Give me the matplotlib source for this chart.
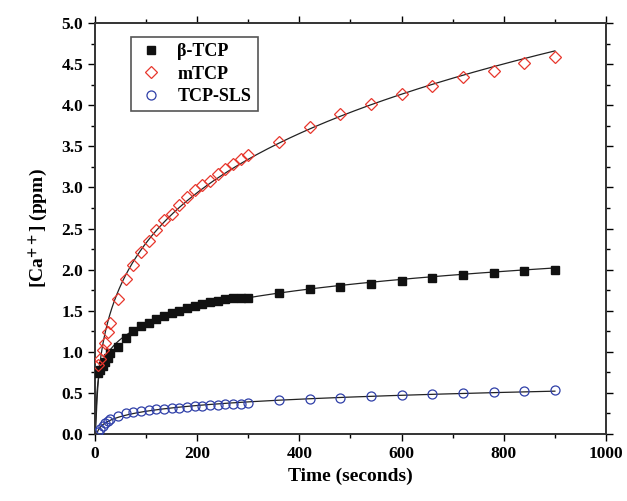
import numpy as np
import matplotlib
matplotlib.use('Agg')
import matplotlib.pyplot as plt
from matplotlib.ticker import MultipleLocator

# sampling times (seconds)
time = [5, 10, 15, 20, 25, 30,
        45, 60, 75, 90, 105, 120, 135, 150, 165, 180, 195, 210, 225, 240, 255, 270, 285, 300,
        360, 420, 480, 540, 600, 660, 720, 780, 840, 900]

beta_tcp = [0.74, 0.78, 0.83, 0.88, 0.93, 0.98,
            1.06, 1.17, 1.25, 1.31, 1.35, 1.40, 1.44, 1.47, 1.50, 1.53, 1.56, 1.58, 1.61, 1.62, 1.64, 1.65, 1.66, 1.66,
            1.72, 1.76, 1.79, 1.83, 1.86, 1.90, 1.93, 1.96, 1.98, 2.00]

m_tcp = [0.84, 0.91, 1.02, 1.11, 1.24, 1.35,
         1.64, 1.89, 2.06, 2.22, 2.35, 2.48, 2.60, 2.68, 2.79, 2.88, 2.97, 3.03, 3.08, 3.16, 3.23, 3.28, 3.34, 3.39,
         3.55, 3.73, 3.89, 4.02, 4.14, 4.24, 4.34, 4.42, 4.51, 4.59]

tcp_sls = [0.03, 0.06, 0.10, 0.13, 0.16, 0.18,
           0.22, 0.25, 0.27, 0.285, 0.295, 0.30, 0.31, 0.315, 0.32, 0.33, 0.335, 0.34, 0.35, 0.355, 0.36, 0.365, 0.37, 0.375,
           0.41, 0.43, 0.44, 0.46, 0.47, 0.49, 0.50, 0.51, 0.52, 0.535]

plt.rcParams['font.family'] = ['Liberation Serif', 'DejaVu Serif']
plt.rcParams['font.weight'] = 'bold'
plt.rcParams['mathtext.fontset'] = 'stix'


def fit_curve(t, y, tt):
    # least squares fit of y = a + b*t^c, scanning the exponent
    t = np.asarray(t, float)
    y = np.asarray(y, float)
    best = None
    for c in np.linspace(0.05, 1.2, 231):
        A = np.column_stack([np.ones_like(t), t ** c])
        coef, *_ = np.linalg.lstsq(A, y, rcond=None)
        err = np.sum((A @ coef - y) ** 2)
        if best is None or err < best[0]:
            best = (err, coef, c)
    _, (a, b), c = best
    # fast initial rise from zero at t = 0
    return (a + b * tt ** c) * (1 - np.exp(-tt / 2.0))


fig = plt.figure(figsize=(6.27, 5.01), dpi=100)
ax = fig.add_axes([0.1515, 0.1337, 0.815, 0.8203])

tt = np.linspace(0, 900, 901)
for vals in (beta_tcp, m_tcp, tcp_sls):
    ax.plot(tt, fit_curve(time, vals, tt), color='#222222', lw=0.9, zorder=2)

ax.plot(time, beta_tcp, 's', color='#111111', ms=6, label='β-TCP', zorder=3)
ax.plot(time, m_tcp, 'D', mfc='none', mec='#e8362c', mew=0.9, ms=6, label='mTCP', zorder=3)
ax.plot(time, tcp_sls, 'o', mfc='none', mec='#2f3fa8', mew=0.9, ms=6.5, label='TCP-SLS', zorder=3)

ax.set_xlim(0, 1000)
ax.set_ylim(0, 5.0)
ax.xaxis.set_major_locator(MultipleLocator(200))
ax.xaxis.set_minor_locator(MultipleLocator(100))
ax.yaxis.set_major_locator(MultipleLocator(0.5))
ax.yaxis.set_minor_locator(MultipleLocator(0.25))
ax.yaxis.set_major_formatter(matplotlib.ticker.FormatStrFormatter('%.1f'))

ax.tick_params(which='both', direction='out', labelsize=12.5, width=1.0, top=True, right=True)
ax.tick_params(which='major', length=5)
ax.tick_params(which='minor', length=3)
for lab in ax.get_xticklabels() + ax.get_yticklabels():
    lab.set_fontweight('bold')
for s in ax.spines.values():
    s.set_linewidth(1.4)
    s.set_color('#333333')

ax.set_xlabel('Time (seconds)', fontsize=14, fontweight='bold', labelpad=4)
ax.set_ylabel(r'[Ca$^{\mathbf{++}}$] (ppm)', fontsize=14, fontweight='bold', labelpad=8)

leg = ax.legend(loc='upper left', bbox_to_anchor=(0.071, 0.966), borderaxespad=0,
                prop={'weight': 'bold', 'size': 13}, fancybox=False, framealpha=1,
                edgecolor='#555555', borderpad=0.35, labelspacing=0.3, handletextpad=0.7,
                handlelength=1.5)
leg.get_frame().set_linewidth(1.2)

plt.savefig('out.png', dpi=100)
